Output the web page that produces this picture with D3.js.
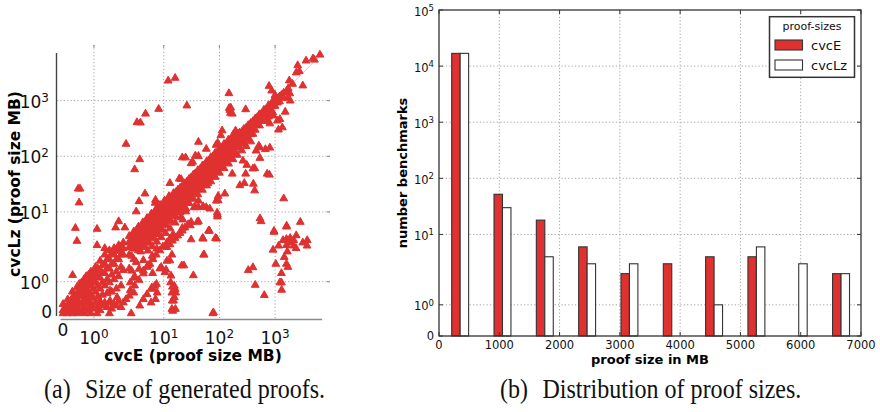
<!DOCTYPE html>
<html>
<head>
<meta charset="utf-8">
<script src="https://cdn.jsdelivr.net/npm/d3@7"></script>
<style>
  html, body { margin: 0; padding: 0; background: #fff; }
  svg { display: block; }
  .sans { font-family: "DejaVu Sans", sans-serif; }
  .serif { font-family: "Liberation Serif", "Times New Roman", serif; }
</style>
</head>
<body>
<svg id="fig" width="880" height="412"></svg>
<script>
// ---------------------------------------------------------------------------
// (a) proof size per benchmark, cvcE (x) against cvcLz (y), in MB
// ---------------------------------------------------------------------------
// dense run along the diagonal, near zero (linear part of the axes)
const bandNearZero = [
  [0,0],[0,0.1],[0,0.3],
  [0.15,0],[0.15,0.1],[0.15,0.25],[0.15,0.45],
  [0.3,0],[0.3,0.15],[0.3,0.3],[0.3,0.5],[0.3,0.7],
  [0.45,0],[0.45,0.2],[0.45,0.45],[0.45,0.65],[0.45,0.85],
  [0.6,0.05],[0.6,0.3],[0.6,0.6],[0.6,0.8],[0.6,1.0],
  [0.75,0.1],[0.75,0.35],[0.75,0.55],[0.75,0.75],[0.75,0.95],[0.75,1.2],
  [0.9,0],[0.9,0.3],[0.9,0.6],[0.9,0.9],[0.9,1.1],[0.9,1.35],
  [1.05,0.35],[1.05,0.7],[1.05,1.0],[1.05,1.25],[1.05,1.5],
  [1.2,0.1],[1.2,0.35],[1.2,0.8],[1.2,1.15],[1.2,1.4],[1.2,1.7],
  [1.35,0.35],[1.35,0.9],[1.35,1.3],[1.35,1.6],[1.35,1.9],
  [1.5,0],[1.5,0.35],[1.5,1.0],[1.5,1.45],[1.5,1.75],[1.5,2.1],
  [1.65,0.3],[1.65,1.1],[1.65,1.6],[1.65,1.9],[1.65,2.3],
  [1.8,0.4],[1.8,1.2],[1.8,1.75],[1.8,2.05],[1.8,2.6],
  [1.95,0.35],[1.95,1.4],[1.95,1.9],[1.95,2.3],[1.95,2.9],
  [0.075,0.05],[0.075,0.2],
  [0.225,0.05],[0.225,0.2],[0.225,0.38],
  [0.375,0.1],[0.375,0.25],[0.375,0.4],[0.375,0.6],
  [0.525,0.1],[0.525,0.35],[0.525,0.55],[0.525,0.75],[0.525,0.95],
  [0.675,0.2],[0.675,0.45],[0.675,0.7],[0.675,0.9],[0.675,1.1],
  [0.825,0.2],[0.825,0.45],[0.825,0.7],[0.825,1.0],[0.825,1.25],
  [0.975,0.15],[0.975,0.5],[0.975,0.8],[0.975,1.05],[0.975,1.3],
  [1.125,0.2],[1.125,0.55],[1.125,0.9],[1.125,1.2],[1.125,1.45],
  [1.275,0.25],[1.275,0.6],[1.275,1.0],[1.275,1.3],[1.275,1.55],
  [1.425,0.2],[1.425,0.65],[1.425,1.1],[1.425,1.45],[1.425,1.75],
  [1.575,0.15],[1.575,0.7],[1.575,1.25],[1.575,1.6],[1.575,1.95],
  [1.725,0.25],[1.725,0.8],[1.725,1.35],[1.725,1.75],[1.725,2.2],
  [1.875,0.2],[1.875,0.9],[1.875,1.5],[1.875,1.9],[1.875,2.45]
];
// dense run along the diagonal, log part of the axes
const bandDiagonal = [
  [2.4,3.8],[2.4,3.0],[2.4,2.4],[2.4,1.9],[2.4,1.45],
  [2.9,4.6],[2.9,3.6],[2.9,2.9],[2.9,2.3],[2.9,1.75],
  [3.5,5.6],[3.5,4.4],[3.5,3.5],[3.5,2.8],[3.5,2.1],
  [4.2,6.7],[4.2,5.2],[4.2,4.2],[4.2,3.4],[4.2,2.5],
  [5,8],[5,6.2],[5,5],[5,4],[5,3],
  [6,9.6],[6,7.5],[6,6],[6,4.8],[6,3.6],
  [7.2,11.5],[7.2,9],[7.2,7.2],[7.2,5.8],[7.2,4.3],
  [8.6,13.8],[8.6,10.8],[8.6,8.6],[8.6,6.9],[8.6,5.2],
  [10.3,16.5],[10.3,12.9],[10.3,10.3],[10.3,8.2],[10.3,6.2],
  [12.4,19.8],[12.4,15.5],[12.4,12.4],[12.4,9.9],[12.4,7.4],
  [15,22.5],[15,18.5],[15,15],[15,12],[15,9.3],
  [18,26],[18,21.5],[18,18],[18,14.5],[18,11],
  [21.5,30],[21.5,25],[21.5,21.5],[21.5,17],[21.5,13],
  [26,36],[26,30],[26,26],[26,21],[26,16],
  [31,43],[31,36],[31,31],[31,25],[31,19],
  [37,51],[37,43],[37,37],[37,30],[37,23],
  [45,61],[45,52],[45,45],[45,36],[45,27],
  [54,73],[54,62],[54,54],[54,43],[54,33],
  [64,86],[64,74],[64,64],[64,51],[64,38],
  [77,103],[77,88],[77,77],[77,62],[77,46],
  [92,122],[92,105],[92,92],[92,74],[92,55],
  [110,145],[110,125],[110,110],[110,88],[110,66],
  [133,170],[133,150],[133,133],[133,107],[133,80],
  [160,200],[160,178],[160,160],[160,130],[160,100],
  [190,235],[190,210],[190,190],[190,155],[190,120],
  [230,275],[230,250],[230,230],[230,188],[230,150],
  [275,320],[275,295],[275,275],[275,225],[275,180],
  [330,375],[330,350],[330,330],[330,270],[330,215],
  [400,440],[400,420],[400,400],[400,330],[400,260],
  [480,520],[480,500],[480,480],[480,400],
  [575,610],[575,590],[575,575],[575,480],
  [690,720],[690,700],[690,690],[690,570],
  [830,860],[830,840],[830,830],[830,690],
  [1000,1030],[1000,1000],[1000,830],
  [1200,1220],[1200,1200],[1200,1000],[1400,1150],[1300,1300],[1600,1500],
  [1430,1430],[1720,1720],[2060,2060]
];
// the same run, in between the columns above
const bandInterleaved = [
  [2.65,3.76],[2.65,2.97],[2.65,2.39],[2.65,1.86],[2.65,1.38],
  [3.2,4.54],[3.2,3.58],[3.2,2.88],[3.2,2.24],[3.2,1.66],
  [3.85,5.47],[3.85,4.31],[3.85,3.47],[3.85,2.7],[3.85,2.0],
  [4.6,6.53],[4.6,5.15],[4.6,4.14],[4.6,3.22],[4.6,2.39],
  [5.5,7.81],[5.5,6.16],[5.5,4.95],[5.5,3.85],[5.5,2.86],
  [6.6,9.37],[6.6,7.39],[6.6,5.94],[6.6,4.62],[6.6,3.43],
  [7.9,11.2],[7.9,8.85],[7.9,7.11],[7.9,5.53],[7.9,4.11],
  [9.4,13.3],[9.4,10.5],[9.4,8.46],[9.4,6.58],[9.4,4.89],
  [11.3,16],[11.3,12.7],[11.3,10.2],[11.3,7.91],[11.3,5.88],
  [13.6,19.3],[13.6,15.2],[13.6,12.2],[13.6,9.52],[13.6,7.07],
  [16.5,23.4],[16.5,18.5],[16.5,14.9],[16.5,11.6],[16.5,8.58],
  [19.7,28],[19.7,22.1],[19.7,17.7],[19.7,13.8],[19.7,10.2],
  [23.7,33.7],[23.7,26.5],[23.7,21.3],[23.7,16.6],[23.7,12.3],
  [28.5,40.5],[28.5,31.9],[28.5,25.7],[28.5,20],[28.5,14.8],
  [34,48.3],[34,38.1],[34,30.6],[34,23.8],[34,17.7],
  [41,58.2],[41,45.9],[41,36.9],[41,28.7],[41,21.3],
  [49.5,70.3],[49.5,55.4],[49.5,44.6],[49.5,34.7],[49.5,25.7],
  [59,83.8],[59,66.1],[59,53.1],[59,41.3],[59,30.7],
  [70,99.4],[70,78.4],[70,63],[70,49],[70,36.4],
  [84,119],[84,94],[84,75.6],[84,58.8],[84,43.7],
  [100,142],[100,112],[100,90],[100,70],[100,52],
  [121,172],[121,136],[121,109],[121,85],[121,63],
  [146,207],[146,164],[146,131],[146,102],[146,76],
  [175,249],[175,196],[175,158],[175,123],[175,91],
  [210,235],[210,189],[210,147],[210,109],
  [252,282],[252,227],[252,176],[252,131],
  [302,338],[302,272],[302,211],[302,157],
  [365,409],[365,329],[365,256],[365,190],
  [440,493],[440,396],[440,308],
  [525,588],[525,473],[525,368],
  [630,706],[630,567],[630,441],
  [760,851],[760,684],[760,532],
  [910,1019],[910,819],[910,637],
  [1100,1100],[1100,950]
];
// lower fringe of the run for small proofs
const bandLowerFringe = [
  [2.5,1.0],[2.5,0.75],[3,1.2],[3,0.9],[3.6,1.44],[3.6,1.08],[4.3,1.72],[4.3,1.29],
  [5.2,2.08],[5.2,1.56],[6.2,2.48],[6.2,1.86],[7.5,3.0],[7.5,2.25],[9,3.6],[10.8,4.3],
  [13,5.2],[16,6.6],[20,8.2],[25,10.5]
];
// benchmarks where cvcLz is clearly larger
const lzLarger = [
  [1.1,5.1],[1.1,2.6],[1.7,5.4],[1.35,2.3],[1.8,7.0],[2.0,5.4],[3.2,10.5],[7,15],
  [4.6,22],[12.9,34],[19,41],[31,77],[21.5,98],[24.7,98],[42,104],[42,187],[58,140],
  [87,165],[93,180],[112,300],[106,245],[154,700],[170,600],[160,770],[148,1400],
  [296,720],[150,760],[158,620],[3.6,16],[7.1,17],[20.5,40],[37,106],[33,82],[0.31,1.24],
  [12,2360],[16,2640],[26,840],[8.1,730],[4.7,600],[3.3,421],[3.8,415],[2.1,172],
  [3.7,91],[3.0,60],[0.49,27],[0.55,27],[0.52,15.2],[0.4,5.3],[0.45,3.1],
  [780,1890],[870,1560],[1800,2370],[2550,4450],[2720,3500],[2400,3300],[3600,5400],
  [4800,5900],[5100,5600],[6400,6900],[1840,1390],[1700,1180],[1000,1300]
];
// benchmarks where cvcLz is clearly smaller
const lzSmaller = [
  [3150,1925],[1520,650],[1870,1030],[1350,340],[1150,310],[805,400],[1220,480],[920,555],
  [1100,451],[900,580],[720,451],[195,298],
  [510,160],[533,148],[790,48],[670,138],[400,62],[265,86],
  [62,34],[95,20],[125,22],[170,50],[233,31],[310,72],[455,130],[430,63],[720,50],[533,96],
  [805,147],[42,16.4],[35,12.5],[25,11.8],[67,11.8],[22,7.5],[65,4.8],[40,6.8],[31,3.3],
  [14,1.9],[9,1.5],[6.3,1.3],[4.3,1.38],[2.9,1.15],[2.1,0.46],[2.4,0.57],[2.9,0.67],[2.6,0],
  [5,0.62],[6.1,0.84],[7.4,0.95],[14,0.14],[14.2,0.41],[14,0.67],[14.3,0.86],[13.3,1.0],
  [10.5,1.33],[76,0],[5.9,0.35],[4.3,0.46],[3.7,0.25],[1.52,0.73],[1.52,0.41],[1.75,0.52],
  [1.19,0.41],[1.1,0],[0.7,0],[0.78,0.35],[1.17,0.3],
  [92,9.2],[58,12.5],[51,13],[42,12.5],[37,12.5],[88,16.4],[13.5,1.22],[8.5,1.45],
  [7.6,0.67],[7.1,0.46],[6.9,0.89],[6.2,0.79],[15.5,0.89],[16,0.79],[16.4,0.67],[15.5,0.52],
  [15,0.41],[14.5,0.08],[16.2,0.14],[11.4,1.7],[11,1.41],[12.9,1.71],[21,1.55],[34,1.23],
  [50,3.5],[85,3.5],[64,4.74],[52,1.9],[23,1.55],[78,0.03],[92,8.5],[42,7],[30,5.9],
  [21.5,5.3],[91,10],[95,16.6],[51,3.4],[89,3.4],[53,1.9],[66,4.7],[430,25],[296,50],
  [407,33],[280,34],[108,70]
];
// two thin streaks below the diagonal
const streaks = [
  [11.4,2.4],[12.9,2.7],[14.3,3.13],[15.9,3.5],[17.8,3.86],[19.5,4.3],[21.5,4.74],
  [24,5.4],[27.5,6.2],[31,6.8],
  [5.0,1.5],[5.64,1.6],[6.4,1.75],[7.3,1.9],[8.5,2.1],[9.6,2.45],[11.4,2.9],
  [12.9,3.4],[14.7,4.1]
];
// large cvcE proofs that cvcLz shrinks to a few MB
const rightCluster = [
  [560,7.0],[1600,5.6],[2840,6.8],[960,4.5],[2400,3.9],[1390,3.2],[1600,3.35],[1870,3.5],
  [2160,3.2],[1790,2.9],[2380,2.3],[1600,2.6],[2160,2.55],[3150,2.9],[3780,3.2],[3750,2.55],
  [920,2.15],[1160,2.55],[1660,2.0],[1460,1.82],[1030,1.6],[1600,1.6],[1700,1.5],[1300,1.3],
  [1220,1.0],[1300,1.0],[1310,0.76],[640,0.59],[440,0.92],[330,1.4],[400,1.49],[1430,18],
  [535,7.9],[955,4.7],[1615,5.8]
];
const scatterTicks = [0, 1, 10, 100, 1000];

// ---------------------------------------------------------------------------
// (b) histogram of proof sizes
// ---------------------------------------------------------------------------
const binEdges = [0, 702, 1404, 2106, 2808, 3510, 4212, 4914, 5616, 6318, 7020];
const countsCvcE  = [16850, 52, 18, 6, 2, 3, 4, 4, 0, 2];
const countsCvcLz = [16880, 30, 4, 3, 3, 0, 1, 6, 3, 2];
const seriesNames = ["cvcE", "cvcLz"];
const histXTicks = [0, 1000, 2000, 3000, 4000, 5000, 6000, 7000];
const histYTicks = [0, 1, 10, 100, 1000, 10000, 100000];

// ---------------------------------------------------------------------------
// symmetric-log transform (linear below the threshold, log10 above it)
// ---------------------------------------------------------------------------
const LINTHRESH = 2;
const LINSCALE = 1 / (1 - 1 / 10);
const symlog = v => {
  const a = Math.abs(v);
  return a <= LINTHRESH ? v / LINTHRESH * LINSCALE
                        : Math.sign(v) * (LINSCALE + Math.log10(a / LINTHRESH));
};
function scaleSymlog(domain, range) {
  const lin = d3.scaleLinear().domain(domain.map(symlog)).range(range);
  return v => lin(symlog(v));
}

const RED = "#e03131";
const GRID = "#9a9a9a";
const svg = d3.select("#fig");

// tick label "10^k" (or plain "0")
function powLabel(sel, v, supSize, rise) {
  if (v === 0) { sel.text("0"); return; }
  const k = Math.round(Math.log10(v));
  sel.append("tspan").text("10");
  sel.append("tspan").attr("font-size", supSize).attr("dy", -rise).text(k);
}

// ===================== panel (a) =====================
{
  const L = 59, R = 330, T = 45, B = 316;
  const x = scaleSymlog([-0.13, 9700], [L, R]);
  const y = scaleSymlog([-0.11, 10000], [B, T]);
  const g = svg.append("g");

  const gridTicks = scatterTicks.filter(v => v > 0);
  g.selectAll(".vg").data(gridTicks).join("line")
    .attr("x1", d => x(d)).attr("x2", d => x(d)).attr("y1", T).attr("y2", B + 3)
    .attr("stroke", GRID).attr("stroke-width", 0.9).attr("stroke-dasharray", "1.2,2.2");
  g.selectAll(".hg").data(gridTicks).join("line")
    .attr("y1", d => y(d)).attr("y2", d => y(d)).attr("x1", L - 2).attr("x2", R)
    .attr("stroke", GRID).attr("stroke-width", 0.9).attr("stroke-dasharray", "1.2,2.2");
  // small ticks on the open top and right edges
  g.selectAll(".tt").data(gridTicks).join("line")
    .attr("x1", d => x(d)).attr("x2", d => x(d)).attr("y1", T).attr("y2", T + 3)
    .attr("stroke", "#888").attr("stroke-width", 1);
  g.selectAll(".rt").data(gridTicks).join("line")
    .attr("y1", d => y(d)).attr("y2", d => y(d)).attr("x1", R - 3).attr("x2", R)
    .attr("stroke", "#888").attr("stroke-width", 1);

  // y = x reference
  g.append("line")
    .attr("x1", x(0)).attr("y1", y(0)).attr("x2", x(7000)).attr("y2", y(7000))
    .attr("stroke", "#c8c8c8").attr("stroke-width", 1);

  const points = [].concat(bandNearZero, bandDiagonal, bandInterleaved, bandLowerFringe,
                           streaks, lzLarger, lzSmaller, rightCluster);
  const tri = "M0,-3.7L3.9,3.1L-3.9,3.1Z";
  g.append("g").selectAll("path").data(points).join("path")
    .attr("d", tri)
    .attr("transform", d => `translate(${x(d[0]).toFixed(2)},${y(d[1]).toFixed(2)})`)
    .attr("fill", RED).attr("stroke", RED).attr("stroke-width", 1)
    .attr("stroke-linejoin", "round");

  // offset spines
  g.append("line").attr("x1", 56.5).attr("x2", 56.5).attr("y1", y(7200)).attr("y2", B)
    .attr("stroke", "#444").attr("stroke-width", 1.4);
  g.append("line").attr("y1", 319.5).attr("y2", 319.5).attr("x1", x(-0.08)).attr("x2", x(7000))
    .attr("stroke", "#8a8a8a").attr("stroke-width", 1.4);

  // tick labels
  g.selectAll(".xl").data(scatterTicks).join("text").attr("class", "sans")
    .attr("x", d => x(d)).attr("y", d => d === 0 ? 335.5 : 343.5)
    .attr("text-anchor", "middle").attr("font-size", 17).attr("fill", "#111")
    .each(function (d) { powLabel(d3.select(this), d, 12, 6); });
  g.selectAll(".yl").data(scatterTicks).join("text").attr("class", "sans")
    .attr("x", d => d === 0 ? 52 : 49).attr("y", d => y(d) + (d === 0 ? 5 : 7))
    .attr("text-anchor", "end").attr("font-size", 17).attr("fill", "#111")
    .each(function (d) { powLabel(d3.select(this), d, 12, 6); });

  g.append("text").attr("class", "sans").attr("x", 193).attr("y", 361)
    .attr("text-anchor", "middle").attr("font-size", 15.5).attr("font-weight", "bold")
    .text("cvcE (proof size MB)");
  g.append("text").attr("class", "sans")
    .attr("transform", "translate(20,184) rotate(-90)")
    .attr("text-anchor", "middle").attr("font-size", 15.5).attr("font-weight", "bold")
    .text("cvcLz (proof size MB)");
}

// ===================== panel (b) =====================
{
  const L = 439, R = 861, T = 10, B = 336;
  const x = d3.scaleLinear().domain([0, 7000]).range([L, R]);
  const y = scaleSymlog([0, 100000], [B, T]);
  const g = svg.append("g");

  g.selectAll(".vg").data(histXTicks.filter(v => v > 0 && v < 7000)).join("line")
    .attr("x1", d => x(d)).attr("x2", d => x(d)).attr("y1", T).attr("y2", B)
    .attr("stroke", GRID).attr("stroke-width", 0.9).attr("stroke-dasharray", "1.2,2.2");
  g.selectAll(".hg").data(histYTicks.filter(v => v > 0 && v < 100000)).join("line")
    .attr("y1", d => y(d)).attr("y2", d => y(d)).attr("x1", L).attr("x2", R)
    .attr("stroke", GRID).attr("stroke-width", 0.9).attr("stroke-dasharray", "1.2,2.2");

  // grouped bars: each bin holds the two series side by side
  const bins = countsCvcE.map((c, i) => {
    const lo = binEdges[i], hi = binEdges[i + 1], w = hi - lo, mid = (lo + hi) / 2;
    return [
      { x0: mid - 0.2 * w, x1: mid, v: c, fill: RED },
      { x0: mid, x1: mid + 0.2 * w, v: countsCvcLz[i], fill: "#fff" }
    ];
  }).flat().filter(d => d.v > 0);
  g.selectAll("rect.bar").data(bins).join("rect").attr("class", "bar")
    .attr("x", d => x(d.x0)).attr("width", d => x(d.x1) - x(d.x0))
    .attr("y", d => y(d.v)).attr("height", d => y(0) - y(d.v))
    .attr("fill", d => d.fill).attr("stroke", "#333").attr("stroke-width", 1.1);

  // inward ticks on all four sides
  const tk = g.append("g").attr("stroke", "#333").attr("stroke-width", 1);
  histXTicks.forEach(v => {
    tk.append("line").attr("x1", x(v)).attr("x2", x(v)).attr("y1", B).attr("y2", B - 4);
    tk.append("line").attr("x1", x(v)).attr("x2", x(v)).attr("y1", T).attr("y2", T + 4);
  });
  histYTicks.forEach(v => {
    tk.append("line").attr("y1", y(v)).attr("y2", y(v)).attr("x1", L).attr("x2", L + 4);
    tk.append("line").attr("y1", y(v)).attr("y2", y(v)).attr("x1", R).attr("x2", R - 4);
  });

  g.append("rect").attr("x", L).attr("y", T).attr("width", R - L).attr("height", B - T)
    .attr("fill", "none").attr("stroke", "#333").attr("stroke-width", 1.3);

  g.selectAll(".xl").data(histXTicks).join("text").attr("class", "sans")
    .attr("x", d => x(d)).attr("y", 349).attr("text-anchor", "middle")
    .attr("font-size", 11.5).attr("fill", "#111").text(d => d);
  g.selectAll(".yl").data(histYTicks).join("text").attr("class", "sans")
    .attr("x", 434).attr("y", d => y(d) + (d === 0 ? 3.8 : 5.5))
    .attr("text-anchor", "end").attr("font-size", 11.5).attr("fill", "#111")
    .each(function (d) { powLabel(d3.select(this), d, 8.5, 4.5); });

  g.append("text").attr("class", "sans").attr("x", 650).attr("y", 364)
    .attr("text-anchor", "middle").attr("font-size", 13).attr("font-weight", "bold")
    .text("proof size in MB");
  g.append("text").attr("class", "sans")
    .attr("transform", "translate(407,173) rotate(-90)")
    .attr("text-anchor", "middle").attr("font-size", 13).attr("font-weight", "bold")
    .text("number benchmarks");

  // legend
  const lg = g.append("g");
  lg.append("rect").attr("x", 769.5).attr("y", 16.7).attr("width", 85).attr("height", 60.6)
    .attr("fill", "#fff").attr("stroke", "#333").attr("stroke-width", 1.5);
  lg.append("text").attr("class", "sans").attr("x", 812).attr("y", 29.5)
    .attr("text-anchor", "middle").attr("font-size", 11).attr("fill", "#111").text("proof-sizes");
  seriesNames.forEach((name, i) => {
    lg.append("rect").attr("x", 775).attr("y", 40 + i * 20).attr("width", 27.5).attr("height", 10)
      .attr("fill", i === 0 ? RED : "#fff").attr("stroke", "#333").attr("stroke-width", 1.1);
    lg.append("text").attr("class", "sans").attr("x", 811).attr("y", 50 + i * 20)
      .attr("font-size", 13).attr("fill", "#111").text(name);
  });
}

// ===================== captions =====================
const captions = [
  { tag: "(a)", text: "Size of generated proofs.", x: 44, gap: 41 },
  { tag: "(b)", text: "Distribution of proof sizes.", x: 500, gap: 42.5 }
];
captions.forEach(c => {
  svg.append("text").attr("class", "serif")
    .attr("transform", `translate(${c.x},398) scale(0.89,1)`)
    .attr("font-size", 27).attr("fill", "#111").text(c.tag);
  svg.append("text").attr("class", "serif")
    .attr("transform", `translate(${c.x + c.gap},398) scale(0.89,1)`)
    .attr("font-size", 27).attr("fill", "#111").text(c.text);
});
</script>
</body>
</html>
